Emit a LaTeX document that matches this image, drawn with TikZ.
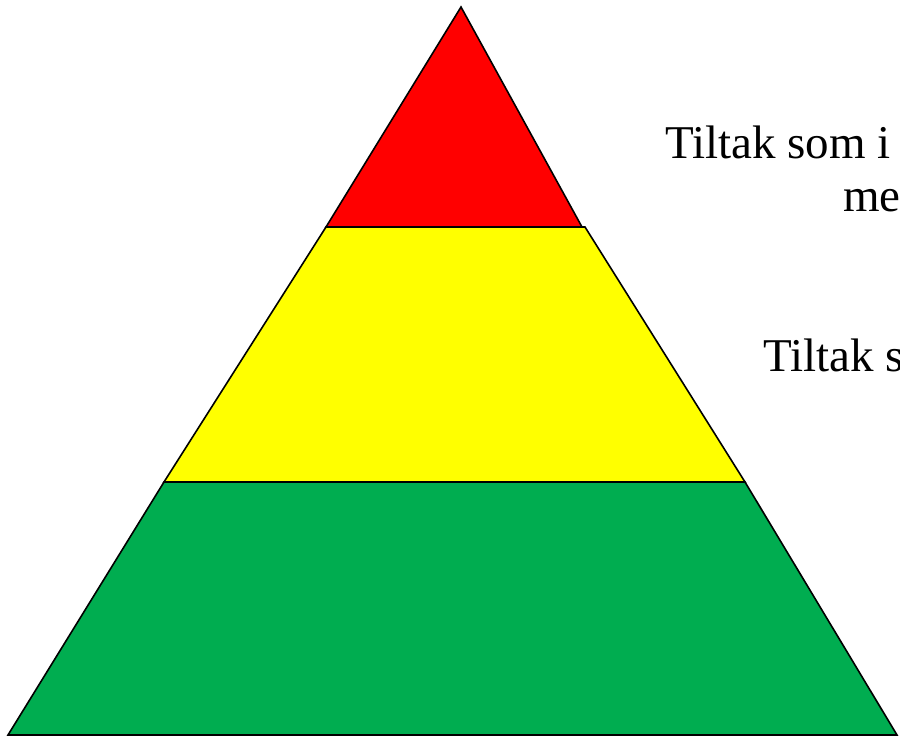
\documentclass[tikz,border=0pt]{standalone}
\usepackage{fontspec}
\setmainfont{Liberation Serif}
\usepackage{tikz}
\usetikzlibrary{positioning}
\definecolor{topred}{RGB}{255,0,0}
\definecolor{midyellow}{RGB}{255,255,0}
\definecolor{basegreen}{RGB}{0,173,80}
\tikzset{
  layer/.style={
    draw = black,
    line width = 1.6pt,
    line join = miter
  },
  tiltak/.style={
    anchor = base west,
    inner sep = 0pt,
    font = \fontsize{47}{54}\selectfont
  }
}

\begin{document}
\begin{tikzpicture}[x=1pt,y=-1pt]
        \clip (0,0) rectangle (900,740);

        % corners of the pyramid
        \coordinate (apex) at (461,7);
        \coordinate (rl) at (326,227);
        \coordinate (rr) at (582,227);
        \coordinate (yl) at (326,227);
        \coordinate (yr) at (585,227);
        \coordinate (gyl) at (164,482);
        \coordinate (gyr) at (745,482);
        \coordinate (bl) at (8,735);
        \coordinate (br) at (897,735);

        \draw[layer, fill=basegreen] (gyl) -- (gyr) -- (br) -- (bl) -- cycle;
        \draw[layer, fill=midyellow] (yl) -- (yr) -- (gyr) -- (gyl) -- cycle;
        \draw[layer, fill=topred] (apex) -- (rr) -- (rl) -- cycle;

        \node[tiltak] (t1) at (665,158) {Tiltak som i};
        \node[tiltak] (t1b) at (843,211) {me};
        \node[tiltak] (t2) at (763,371) {Tiltak s};
\end{tikzpicture}
\end{document}
